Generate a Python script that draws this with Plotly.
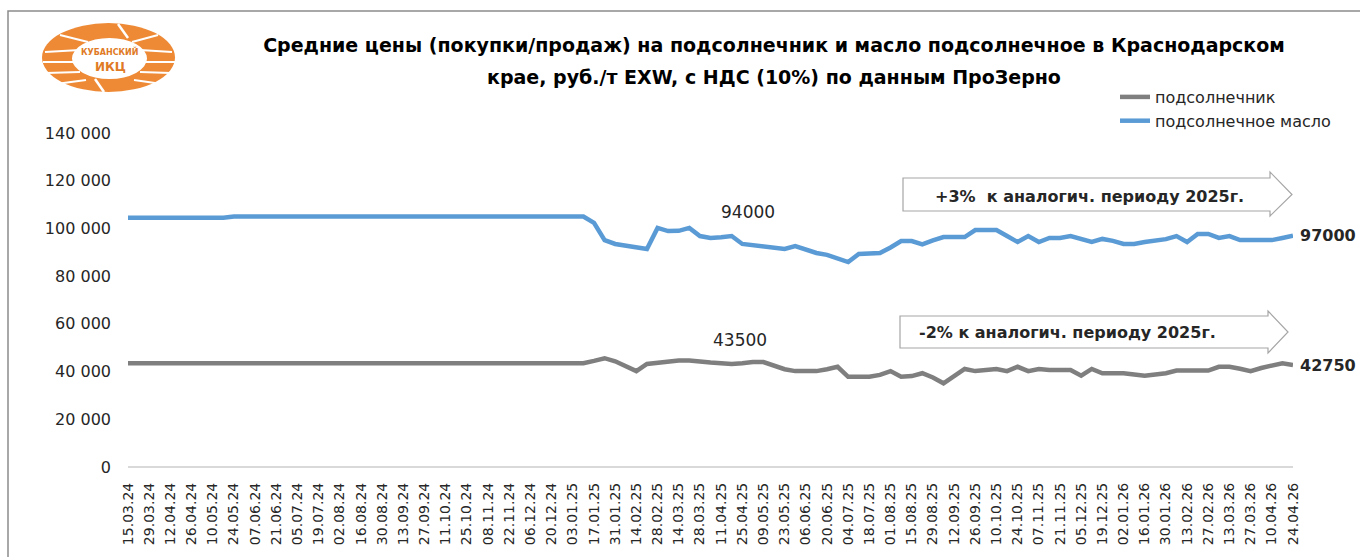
import pandas as pd
import plotly.graph_objects as go

# ---------------- data ----------------
start_date = "2024-03-15"
n_weeks = 111

tick_labels = [
    "15.03.24", "29.03.24", "12.04.24", "26.04.24", "10.05.24", "24.05.24", "07.06.24",
    "21.06.24", "05.07.24", "19.07.24", "02.08.24", "16.08.24", "30.08.24", "13.09.24",
    "27.09.24", "11.10.24", "25.10.24", "08.11.24", "22.11.24", "06.12.24", "20.12.24",
    "03.01.25", "17.01.25", "31.01.25", "14.02.25", "28.02.25", "14.03.25", "28.03.25",
    "11.04.25", "25.04.25", "09.05.25", "23.05.25", "06.06.25", "20.06.25", "04.07.25",
    "18.07.25", "01.08.25", "15.08.25", "29.08.25", "12.09.25", "26.09.25", "10.10.25",
    "24.10.25", "07.11.25", "21.11.25", "05.12.25", "19.12.25", "02.01.26", "16.01.26",
    "30.01.26", "13.02.26", "27.02.26", "13.03.26", "27.03.26", "10.04.26", "24.04.26",
]

sunflower_seed = [
    43500, 43500, 43500, 43500, 43500, 43500, 43500, 43500, 43500, 43500,
    43500, 43500, 43500, 43500, 43500, 43500, 43500, 43500, 43500, 43500,
    43500, 43500, 43500, 43500, 43500, 43500, 43500, 43500, 43500, 43500,
    43500, 43500, 43500, 43500, 43500, 43500, 43500, 43500, 43500, 43500,
    43500, 43500, 43500, 43500,
    44500, 45600, 44300, 42300, 40200, 43200, 43700, 44000, 44600, 44600,
    44000, 43800, 43500, 43200, 43500, 44000, 44000, 42500, 41000, 40200,
    40200, 40200, 41000, 42000, 37800, 37800, 37800, 38600, 40200, 37800,
    38100, 39300, 37500, 35100, 38000, 41100, 40200, 40600, 41100, 40200,
    42000, 40200, 41100, 40700, 40700, 40700, 38300, 41100, 39300, 39300,
    39300, 38800, 38300, 38800, 39300, 40400, 40400, 40400, 40400, 42000,
    42000, 41200, 40200, 41500, 42700, 43500, 42750,
]

sunflower_oil = [
    104500, 104500, 104500, 104500, 104500, 104500, 104500, 104500, 104500, 104500,
    105000, 105000, 105000, 105000, 105000, 105000, 105000, 105000, 105000, 105000,
    105000, 105000, 105000, 105000, 105000, 105000, 105000, 105000, 105000, 105000,
    105000, 105000, 105000, 105000, 105000, 105000, 105000, 105000, 105000, 105000,
    105000, 105000, 105000, 105000,
    102300, 95100, 93500, 92800, 92100, 91400, 100200, 98900, 99000, 100200,
    96800, 96000, 96300, 96800, 93500, 93000, 92200, 92000, 91400, 92600,
    91000, 89700, 88900, 87500, 85900, 89300, 89300, 89700, 92000, 94700,
    94700, 93300, 95000, 96400, 96400, 96400, 99300, 99300, 99300, 96800,
    94300, 96800, 94300, 96000, 96000, 96800, 95500, 94300, 95600, 94800,
    93500, 93500, 94300, 94700, 95500, 96800, 94300, 97700, 97700, 96000,
    96800, 95100, 95100, 95100, 95100, 96000, 97000,
]

y_tick_vals = [0, 20000, 40000, 60000, 80000, 100000, 120000, 140000]
y_tick_text = ["0", "20 000", "40 000", "60 000", "80 000", "100 000", "120 000", "140 000"]

series_names = ["подсолнечник", "подсолнечное масло"]
series_colors = ["#7F7F7F", "#5B9BD5"]

title_line1 = "Средние цены (покупки/продаж) на подсолнечник и масло подсолнечное в Краснодарском"
title_line2 = "крае, руб./т EXW, с НДС (10%) по данным ПроЗерно"
note_oil = "+3%  к аналогич. периоду 2025г."
note_seed = "-2% к аналогич. периоду 2025г."

dates = pd.date_range(start_date, periods=n_weeks, freq="7D")

# ---------------- layout helpers (pixel -> paper) ----------------
W, H = 1360, 557
L, R, T, B = 128, 1293, 133, 467


def px(x):
    return (x - L) / (R - L)


def py(y):
    return (B - y) / (B - T)


FONT = "DejaVu Sans"
TXT = "#262626"

fig = go.Figure()
for name, vals, col in zip(series_names, [sunflower_seed, sunflower_oil], series_colors):
    fig.add_trace(go.Scatter(
        x=dates, y=vals, mode="lines", name=name,
        line=dict(color=col, width=4.5),
        hoverinfo="x+y",
    ))

shapes = []

# outer frame
shapes.append(dict(type="rect", xref="paper", yref="paper",
                   x0=px(8), x1=px(1362), y0=py(580), y1=py(11),
                   line=dict(color="#8C8C8C", width=1.5), fillcolor="rgba(0,0,0,0)", layer="below"))


def arrow_path(x0, x1, top, bot, htop, hbot, tip):
    mid = (top + bot) / 2
    pts = [(x0, top), (x1, top), (x1, htop), (tip, mid), (x1, hbot), (x1, bot), (x0, bot)]
    s = "M " + " L ".join(f"{px(a):.5f},{py(b):.5f}" for a, b in pts) + " Z"
    return s


shapes.append(dict(type="path", xref="paper", yref="paper",
                   path=arrow_path(903, 1270, 178, 211, 172, 216, 1292),
                   fillcolor="white", line=dict(color="#A6A6A6", width=1.2)))
shapes.append(dict(type="path", xref="paper", yref="paper",
                   path=arrow_path(900, 1268, 316, 348, 311, 353, 1288),
                   fillcolor="white", line=dict(color="#A6A6A6", width=1.2)))

# logo
ORANGE = "#EE8A35"
shapes.append(dict(type="circle", xref="paper", yref="paper",
                   x0=px(42), x1=px(175), y0=py(92), y1=py(23),
                   fillcolor=ORANGE, line=dict(width=0)))
for (a, b, c, d) in [(45, 52, 80, 50), (43, 62, 78, 62), (46, 73, 80, 72), (56, 84, 86, 80),
                     (172, 52, 140, 50), (175, 62, 142, 62), (171, 73, 140, 72), (162, 84, 134, 80),
                     (60, 35, 88, 42), (158, 35, 132, 42)]:
    shapes.append(dict(type="line", xref="paper", yref="paper",
                       x0=px(a), x1=px(c), y0=py(b), y1=py(d),
                       line=dict(color="white", width=2)))
shapes.append(dict(type="circle", xref="paper", yref="paper",
                   x0=px(72), x1=px(147), y0=py(79), y1=py(38),
                   fillcolor="white", line=dict(width=0)))
shapes.append(dict(type="line", xref="paper", yref="paper",
                   x0=px(118), x1=px(128), y0=py(24), y1=py(38),
                   line=dict(color="white", width=2.5)))
shapes.append(dict(type="line", xref="paper", yref="paper",
                   x0=px(95), x1=px(104), y0=py(79), y1=py(92),
                   line=dict(color="white", width=2.5)))

annotations = [
    dict(text=title_line2, xref="paper", yref="paper", x=px(774), y=py(77),
         showarrow=False, font=dict(family=FONT, size=19, color="black", weight="bold"),
         xanchor="center", yanchor="middle"),
    dict(text=note_oil, xref="paper", yref="paper", x=px(1089), y=py(196),
         showarrow=False, font=dict(family=FONT, size=16, color=TXT, weight="bold"),
         xanchor="center", yanchor="middle"),
    dict(text=note_seed, xref="paper", yref="paper", x=px(1067), y=py(332),
         showarrow=False, font=dict(family=FONT, size=16, color=TXT, weight="bold"),
         xanchor="center", yanchor="middle"),
    dict(text="94000", xref="paper", yref="paper", x=px(748), y=py(212),
         showarrow=False, font=dict(family=FONT, size=17, color=TXT),
         xanchor="center", yanchor="middle"),
    dict(text="43500", xref="paper", yref="paper", x=px(740), y=py(340),
         showarrow=False, font=dict(family=FONT, size=17, color=TXT),
         xanchor="center", yanchor="middle"),
    dict(text=str(sunflower_oil[-1]), x=dates[-1], y=sunflower_oil[-1],
         showarrow=False, font=dict(family=FONT, size=16, color=TXT, weight="bold"),
         xanchor="left", yanchor="middle", xshift=5),
    dict(text=str(sunflower_seed[-1]), x=dates[-1], y=sunflower_seed[-1],
         showarrow=False, font=dict(family=FONT, size=16, color=TXT, weight="bold"),
         xanchor="left", yanchor="middle", xshift=5),
    dict(text="КУБАНСКИЙ", xref="paper", yref="paper", x=px(110), y=py(52),
         showarrow=False, font=dict(family=FONT, size=8, color="#E07A25", weight="bold"),
         xanchor="center", yanchor="middle"),
    dict(text="ИКЦ", xref="paper", yref="paper", x=px(110), y=py(67),
         showarrow=False, font=dict(family=FONT, size=12, color="#E07A25", weight="bold"),
         xanchor="center", yanchor="middle"),
]

fig.update_layout(
    width=W, height=H,
    margin=dict(l=L, r=W - R, t=T, b=H - B),
    paper_bgcolor="white", plot_bgcolor="white",
    font=dict(family=FONT, color=TXT),
    title=dict(text=title_line1, x=774 / W, xanchor="center", xref="container",
               y=1 - 45 / H, yanchor="middle", yref="container",
               font=dict(family=FONT, size=19, color="black", weight="bold")),
    showlegend=True,
    legend=dict(x=px(1115), y=py(80), xanchor="left", yanchor="top",
                font=dict(family=FONT, size=16, color=TXT),
                bgcolor="rgba(0,0,0,0)", tracegroupgap=0, itemwidth=30),
    shapes=shapes,
    annotations=annotations,
    xaxis=dict(
        range=[dates[0], dates[-1]],
        tickvals=list(dates[::2]), ticktext=tick_labels,
        tickangle=-90, tickfont=dict(family=FONT, size=14, color=TXT),
        showgrid=False, zeroline=False, showline=False, ticks="",
        ticklabelstandoff=12,
    ),
    yaxis=dict(
        range=[0, 140000], tickvals=y_tick_vals, ticktext=y_tick_text,
        tickfont=dict(family=FONT, size=16, color=TXT),
        showgrid=False, zeroline=True, zerolinecolor="#D9D9D9", zerolinewidth=1.5,
        showline=False, ticks="", ticklabelstandoff=16,
    ),
)

fig.write_html(
    "out.html",
    config={"displayModeBar": False},
    post_script="document.body.style.margin='0';document.body.style.overflow='hidden';",
)
